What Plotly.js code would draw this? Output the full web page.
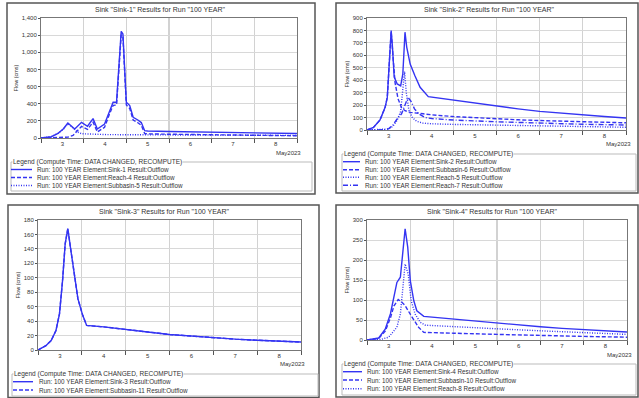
<!DOCTYPE html>
<html><head><meta charset="utf-8">
<script src="https://cdn.plot.ly/plotly-3.0.1.min.js"></script>
<style>html,body{margin:0;padding:0;background:#fff}#chart{width:639px;height:398px}</style>
</head><body><div id="chart"></div>
<script>
// ---------- DATA (x = day of May 2023, decimal) ----------
const dayLabels = ['3','4','5','6','7','8'];
const dayStarts = [3,4,5,6,7,8];
const monthLabel = 'May2023';
const yTitle = 'Flow (cms)';
const legendTitle = 'Legend (Compute Time: DATA CHANGED, RECOMPUTE)';

const titles = [
  'Sink "Sink-1" Results for Run "100 YEAR"',
  'Sink "Sink-2" Results for Run "100 YEAR"',
  'Sink "Sink-3" Results for Run "100 YEAR"',
  'Sink "Sink-4" Results for Run "100 YEAR"'
];

// Panel 1
const names1 = ['Run: 100 YEAR Element:Sink-1 Result:Outflow',
                'Run: 100 YEAR Element:Reach-4 Result:Outflow',
                'Run: 100 YEAR Element:Subbasin-5 Result:Outflow'];
const t1Sink = [3.0,3.24,3.40,3.52,3.63,3.79,3.95,4.09,4.22,4.32,4.49,4.61,4.69,4.77,4.83,4.88,4.92,4.96,5.00,5.08,5.16,5.27,5.35,5.43,5.5,6,6.5,7,7.5,8,8.5,9];
const q1Sink = [0,15,55,105,175,105,183,137,226,105,163,319,417,417,863,1245,1213,747,417,378,242,210,180,85,82,76,72,68,64,60,56,52];
const t1Reach = [3.0,3.5,3.63,3.75,3.85,3.95,4.09,4.22,4.32,4.49,4.61,4.69,4.77,4.83,4.88,4.92,4.96,5.00,5.08,5.16,5.27,5.35,5.43,5.5,6,7,8,9];
const q1Reach = [0,3,10,30,80,135,100,185,70,125,285,380,385,825,1205,1180,715,385,345,210,178,148,52,48,44,38,32,26];
const t1Sub = [3.0,3.24,3.40,3.52,3.63,3.75,3.85,3.95,4.2,4.5,5,6,7,8,9];
const q1Sub = [0,15,55,100,168,112,72,50,42,40,38,35,33,31,30];

// Panel 2
const names2 = ['Run: 100 YEAR Element:Sink-2 Result:Outflow',
                'Run: 100 YEAR Element:Subbasin-6 Result:Outflow',
                'Run: 100 YEAR Element:Reach-5 Result:Outflow',
                'Run: 100 YEAR Element:Reach-7 Result:Outflow'];
const t2Sink = [3.0,3.15,3.30,3.42,3.47,3.52,3.56,3.59,3.63,3.70,3.78,3.83,3.88,3.92,4.00,4.11,4.23,4.42,5.0,5.54,6.0,6.5,7.0,7.5,8.0,8.5,9.0];
const q2Sink = [0,21,80,182,262,530,800,666,425,370,355,450,786,666,530,436,343,268,240,215,195,170,150,135,120,108,97];
const t2Sub = [3.0,3.15,3.30,3.42,3.47,3.52,3.56,3.60,3.65,3.72,3.80,3.88,4.0,4.3,4.5,5,5.5,6,6.5,7,7.5,8,8.5,9];
const q2Sub = [0,21,80,182,262,530,790,600,380,250,180,155,142,130,122,108,98,90,82,76,70,66,62,58];
const t2R5 = [3.0,3.4,3.5,3.6,3.7,3.78,3.83,3.87,3.91,3.97,4.05,4.15,4.3,4.5,5,6,7,8,9];
const q2R5 = [0,2,8,30,80,150,300,470,300,160,100,70,55,50,45,38,32,26,22];
const t2R7 = [3.0,3.4,3.5,3.6,3.7,3.8,3.88,3.95,4.02,4.1,4.2,4.35,4.5,5,6,7,8,9];
const q2R7 = [0,2,10,40,90,130,200,262,230,170,130,100,92,80,66,55,46,40];

// Panel 3
const names3 = ['Run: 100 YEAR Element:Sink-3 Result:Outflow',
                'Run: 100 YEAR Element:Subbasin-11 Result:Outflow'];
const t3 = [3.0,3.18,3.30,3.41,3.49,3.56,3.62,3.68,3.75,3.83,3.91,4.02,4.11,4.5,5,5.5,6,6.5,7,7.5,8,8.5,9];
const q3Sink = [0,6,13,27,50,96,147,168,138,101,71,48,34,32,28,25,21.5,19,17,15,13.5,12.5,11];
const q3Sub = [0,6,13,27,50,96,147,168,138,101,71,48,34,32,28,25,21.5,19,17,15,13.5,12.5,11];

// Panel 4
const names4 = ['Run: 100 YEAR Element:Sink-4 Result:Outflow',
                'Run: 100 YEAR Element:Subbasin-10 Result:Outflow',
                'Run: 100 YEAR Element:Reach-8 Result:Outflow'];
const t4Sink = [3.0,3.27,3.42,3.54,3.62,3.69,3.77,3.82,3.88,3.94,4.00,4.08,4.15,4.31,5,5.5,6,6.5,7,7.5,8,8.5,9];
const q4Sink = [0,5,27,65,107,144,157,207,278,232,148,98,73,59,52,47,42,37,33,29,26,23,20];
const t4Sub = [3.0,3.27,3.42,3.54,3.62,3.72,3.80,3.88,4.04,4.19,4.31,4.5,5,6,7,8,9];
const q4Sub = [0,4,22,55,85,101,95,86,57,32,19,18,17,14,11,9,7];
const t4Reach = [3.0,3.3,3.5,3.69,3.77,3.82,3.88,3.95,4.02,4.11,4.23,4.35,5,6,7,8,9];
const q4Reach = [0,1,7,32,65,123,190,165,98,65,44,37,33,28,23,18,14];

// ---------- STYLE / LAYOUT ----------
const W = 639, H = 398;
const BLUE = '#3434f2';
const DASH = {solid:'solid', dash:'4px,2px', dot:'1px,1.5px', dashdot:'5px,2px,1px,2px'};
const fx = v => v / W, fy = v => 1 - v / H;

const panels = [
  {ax:'', plot:[41,297,18,138], yr:[0,1400], dy:200, frame:[7,315,3,194], title:[161,9], month:[288,153],
   legend:[11,312,162,191], items:[169.5,177.5,185.5], sample:[11,32], textX:35,
   series:[[t1Sink,q1Sink,'solid'],[t1Reach,q1Reach,'dash'],[t1Sub,q1Sub,'dot']], names:names1},
  {ax:'2', plot:[367,626,18,130], yr:[0,900], dy:100, frame:[336,638,3,193], title:[489,9], month:[618,144],
   legend:[342,636,154,191], items:[161.7,169.7,177.3,185.3], sample:[343,360], textX:363,
   series:[[t2Sink,q2Sink,'solid'],[t2Sub,q2Sub,'dash'],[t2R5,q2R5,'dot'],[t2R7,q2R7,'dashdot']], names:names2},
  {ax:'3', plot:[38,301,220,350], yr:[0,180], dy:20, frame:[8,319,205,397.5], title:[164,211], month:[292,364],
   legend:[12,318,374,396], items:[381.7,390], sample:[13,33], textX:37,
   series:[[t3,q3Sink,'solid'],[t3,q3Sub,'dash']], names:names3},
  {ax:'4', plot:[367,627,220,340], yr:[0,300], dy:50, frame:[336,638,205,397], title:[492,211], month:[619,355],
   legend:[342,636,364,395], items:[371.7,380,388.7], sample:[343,362], textX:365,
   series:[[t4Sink,q4Sink,'solid'],[t4Sub,q4Sub,'dash'],[t4Reach,q4Reach,'dot']], names:names4}
];

const traces = [], shapes = [], annotations = [];
const layout = {
  width: W, height: H, margin:{l:0,r:0,t:0,b:0},
  paper_bgcolor:'#fff', plot_bgcolor:'#fff', showlegend:false,
  font:{family:'Liberation Sans, Arial, sans-serif', color:'#333'}
};

panels.forEach((p, i) => {
  const xa = 'xaxis' + p.ax, ya = 'yaxis' + p.ax;
  const xr = 'x' + p.ax, yr = 'y' + p.ax;
  layout[xa] = {
    domain:[fx(p.plot[0]), fx(p.plot[1])], anchor: yr, range:[3,9],
    tickmode:'array', tickvals: dayStarts.map(d => d + 0.5), ticktext: dayLabels,
    ticks:'', showgrid:false, zeroline:false, showline:true, linecolor:'#777', linewidth:1, mirror:true,
    tickfont:{size:6, color:'#333'},
    minor:{tick0:3, dtick:1, ticks:'outside', ticklen:4, tickcolor:'#555', showgrid:true, gridcolor:'#d2d2d2', gridwidth:1.2}
  };
  layout[ya] = {
    domain:[fy(p.plot[3]), fy(p.plot[2])], anchor: xr, range:p.yr, dtick:p.dy, tick0:0,
    ticks:'outside', ticklen:2, tickcolor:'#555', separatethousands:true,
    showgrid:true, gridcolor:'#d8d8d8', gridwidth:1, zeroline:false,
    showline:true, linecolor:'#777', linewidth:1, mirror:true,
    tickfont:{size:6, color:'#333'},
    title:{text:yTitle, font:{size:5.5, color:'#333'}, standoff:2}
  };
  p.series.forEach((s, k) => {
    traces.push({x:s[0], y:s[1], xaxis:xr, yaxis:yr, type:'scatter', mode:'lines',
      name:p.names[k], line:{color:BLUE, width:1.4, dash:DASH[s[2]]}, hoverinfo:'x+y'});
  });
  // panel frame
  shapes.push({type:'rect', xref:'paper', yref:'paper', x0:fx(p.frame[0]), x1:fx(p.frame[1]),
    y0:fy(p.frame[3]), y1:fy(p.frame[2]), line:{color:'#555', width:1.5}});
  // title
  annotations.push({text:titles[i], xref:'paper', yref:'paper', x:fx(p.title[0]), y:fy(p.title[1]),
    xanchor:'center', yanchor:'middle', showarrow:false, font:{size:7, color:'#333'}});
  // month label
  annotations.push({text:monthLabel, xref:'paper', yref:'paper', x:fx(p.month[0]), y:fy(p.month[1]),
    xanchor:'center', yanchor:'middle', showarrow:false, font:{size:6, color:'#333'}});
  // legend box
  shapes.push({type:'rect', xref:'paper', yref:'paper', x0:fx(p.legend[0]), x1:fx(p.legend[1]),
    y0:fy(p.legend[3]), y1:fy(p.legend[2]), line:{color:'#bbb', width:1}});
  annotations.push({text:legendTitle, xref:'paper', yref:'paper', x:fx(p.legend[0]+1), y:fy(p.legend[2]),
    xanchor:'left', yanchor:'middle', showarrow:false, bgcolor:'#fff', borderpad:0,
    font:{size:6.5, color:'#333'}});
  p.series.forEach((s, k) => {
    const yy = p.items[k];
    shapes.push({type:'line', xref:'paper', yref:'paper', x0:fx(p.sample[0]), x1:fx(p.sample[1]),
      y0:fy(yy), y1:fy(yy), line:{color:BLUE, width:1.4, dash:DASH[s[2]]}});
    annotations.push({text:p.names[k], xref:'paper', yref:'paper', x:fx(p.textX), y:fy(yy),
      xanchor:'left', yanchor:'middle', showarrow:false, font:{size:6.3, color:'#333'}});
  });
});

layout.shapes = shapes;
layout.annotations = annotations;
Plotly.newPlot('chart', traces, layout, {staticPlot:true, displayModeBar:false});
</script>
</body></html>
